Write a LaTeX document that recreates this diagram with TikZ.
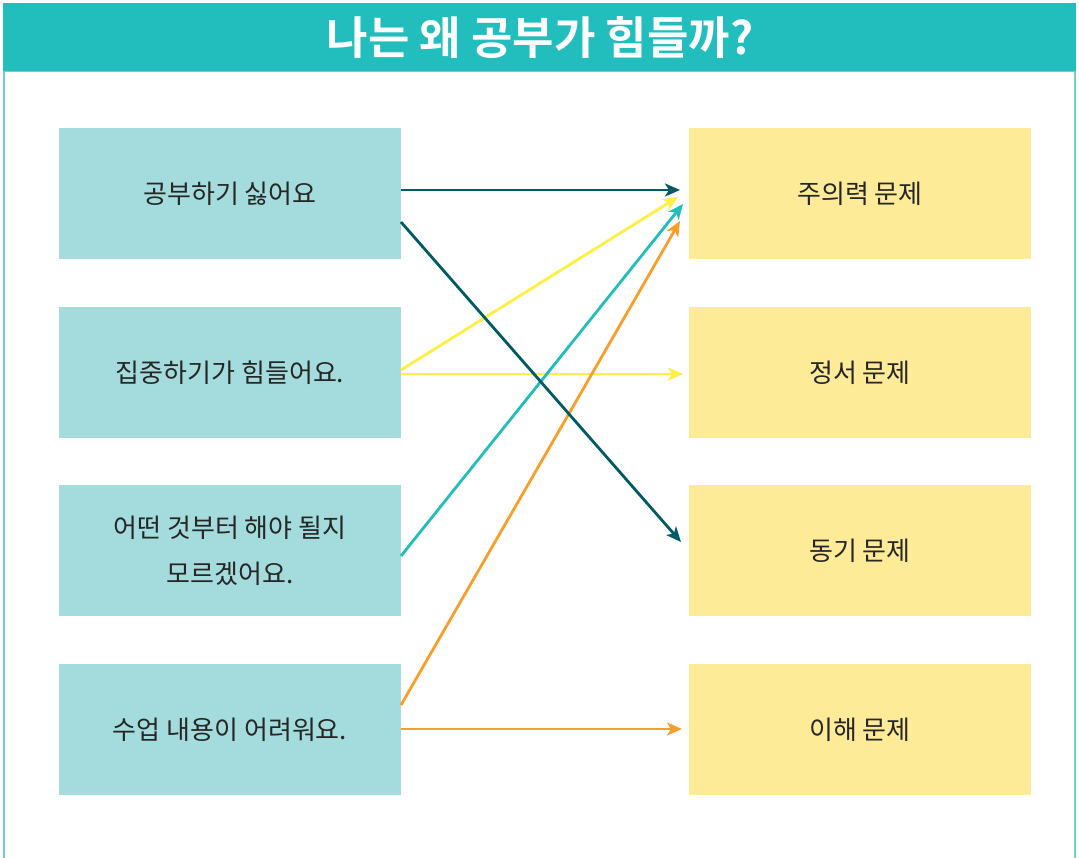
\documentclass[tikz,border=0pt]{standalone}
\usepackage{fontspec}
\usepackage{graphicx}
\setmainfont{Noto Sans CJK KR}
\newfontfamily\titlefont{Noto Sans CJK KR}[BoldFont={* Bold}]
\usetikzlibrary{arrows.meta}
\definecolor{barteal}{HTML}{22BDBD}
\definecolor{framec}{HTML}{6CCFCB}
\definecolor{leftc}{HTML}{A4DBDC}
\definecolor{rightc}{HTML}{FEEB98}
\definecolor{darkteal}{HTML}{005A63}
\definecolor{ayellow}{HTML}{FFEE44}
\definecolor{ateal}{HTML}{22BDBD}
\definecolor{aorange}{HTML}{F99E2A}
\tikzset{
  lbox/.style={fill=leftc, draw=none, minimum width=342pt, minimum height=131pt, inner sep=0pt, align=center, font=\fontsize{26}{46}\selectfont, text=black!85},
  rbox/.style={fill=rightc, draw=none, minimum width=342pt, minimum height=131pt, inner sep=0pt, align=center, font=\fontsize{26}{46}\selectfont, text=black!85},
  arr/.style={line width=2.8pt, -{Stealth[length=15pt, width=13pt, inset=4pt]}}
}
\begin{document}
\begin{tikzpicture}[x=1pt,y=-1pt]
\useasboundingbox (0,0) rectangle (1079,858);
% frame
\draw[framec, line width=2pt] (4,72) -- (4,860);
\draw[framec, line width=2pt] (1075,72) -- (1075,860);
\fill[barteal] (3,3) rectangle (1076,72);
\draw[framec, line width=1pt] (3,72) -- (1076,72);
\node[text=white, font=\titlefont\bfseries\fontsize{45}{48}\selectfont] (title) at (540,38) {나는 왜 공부가 힘들까?};
% boxes
\node[lbox] (l1) at (230,193.5) {공부하기 싫어요};
\node[lbox] (l2) at (230,372.5) {집중하기가 힘들어요.};
\node[lbox] (l3) at (230,550.5) {어떤 것부터 해야 될지\\모르겠어요.};
\node[lbox] (l4) at (230,729.5) {수업 내용이 어려워요.};
\node[rbox] (r1) at (860,193.5) {주의력 문제};
\node[rbox] (r2) at (860,372.5) {정서 문제};
\node[rbox] (r3) at (860,550.5) {동기 문제};
\node[rbox] (r4) at (860,729.5) {이해 문제};
% coordinates
\coordinate (a1s) at (401,190);
\coordinate (a1e) at (680,190);
\coordinate (a2s) at (401,222);
\coordinate (a2e) at (681,542);
\coordinate (a3s) at (401,370);
\coordinate (a3e) at (678,197);
\coordinate (a4s) at (401,374);
\coordinate (a4e) at (683,374);
\coordinate (a5s) at (401,556);
\coordinate (a5e) at (683,204);
\coordinate (a6s) at (401,705);
\coordinate (a6e) at (680,221);
\coordinate (a7s) at (401,729);
\coordinate (a7e) at (682,729);
% arrows
\draw[arr, darkteal] (a1s) -- (a1e);
\draw[arr, ayellow] (a3s) -- (a3e);
\draw[arr, ayellow] (a4s) -- (a4e);
\draw[arr, ateal] (a5s) -- (a5e);
\draw[arr, aorange] (a6s) -- (a6e);
\draw[arr, aorange] (a7s) -- (a7e);
\draw[arr, darkteal] (a2s) -- (a2e);
\end{tikzpicture}
\end{document}
